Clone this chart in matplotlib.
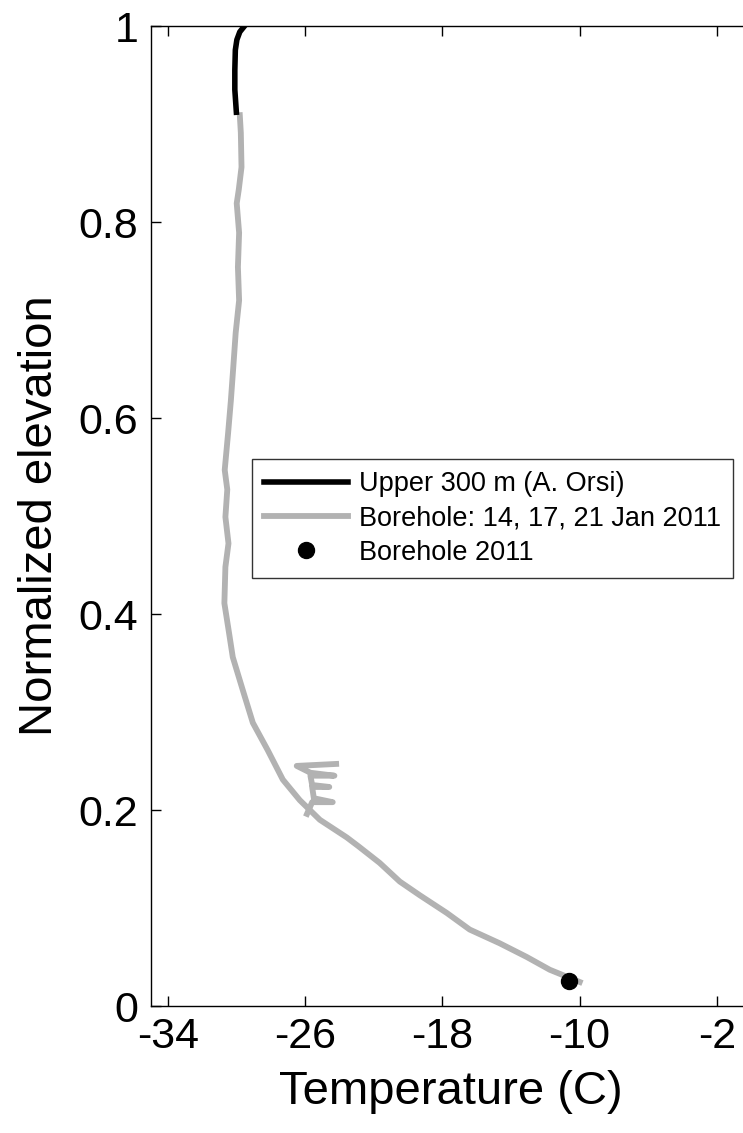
import matplotlib
matplotlib.use("Agg")
import matplotlib.pyplot as plt

plt.rcParams['font.family'] = ['Liberation Sans', 'DejaVu Sans']

# Upper 300 m profile (A. Orsi)
orsi_t = [-29.59, -29.82, -29.99, -30.08, -30.11, -30.11, -30.02]
orsi_z = [0.999, 0.994, 0.986, 0.9755, 0.955, 0.935, 0.912]

# Borehole profiles, Jan 2011
bh_t = [-29.82, -29.76, -29.72, -29.88, -30.00, -29.86, -29.93, -29.86, -30.06,
        -30.20, -30.34, -30.50, -30.70, -30.55, -30.66, -30.48, -30.66, -30.72,
        -30.45, -30.23, -29.64, -29.06, -28.19, -27.31, -26.32, -25.15, -23.58,
        -22.90, -21.66, -20.49, -19.32, -17.75, -16.41, -14.66, -13.08,
        -11.74, -9.99]
bh_z = [0.909, 0.891, 0.856, 0.833, 0.819, 0.789, 0.754, 0.720, 0.687,
        0.652, 0.618, 0.585, 0.547, 0.527, 0.499, 0.472, 0.448, 0.411,
        0.381, 0.356, 0.322, 0.289, 0.261, 0.231, 0.210, 0.190, 0.172,
        0.163, 0.146, 0.127, 0.113, 0.095, 0.078, 0.064, 0.050,
        0.037, 0.0245]

# noisy section of one borehole log
bh2_t = [-25.9, -25.6, -24.4, -25.5, -25.6, -24.6, -25.6, -25.7, -24.3, -25.7, -26.5, -24.2]
bh2_z = [0.196, 0.208, 0.208, 0.212, 0.2235, 0.2235, 0.2255, 0.235, 0.235, 0.238, 0.245, 0.247]

# single 2011 point
pt_t = [-10.64]
pt_z = [0.026]

xticks = [-34, -26, -18, -10, -2]
yticks = [0, 0.2, 0.4, 0.6, 0.8, 1]
ytick_labels = ['0', '0.2', '0.4', '0.6', '0.8', '1']

fig = plt.figure(figsize=(7.43, 11.33), dpi=100)
ax = fig.add_axes([151/743, 127/1133, 600/743, 980/1133])

ax.plot(orsi_t, orsi_z, color='black', linewidth=4, label='Upper 300 m (A. Orsi)', zorder=3)
ax.plot(bh_t, bh_z, color='#b2b2b2', linewidth=4.2, label='Borehole: 14, 17, 21 Jan 2011', zorder=2)
ax.plot(bh2_t, bh2_z, color='#b2b2b2', linewidth=4.2, zorder=2)
ax.plot(pt_t, pt_z, 'o', color='black', markersize=11.5, label='Borehole 2011', zorder=4)

ax.set_xlim(-35, 0)
ax.set_ylim(0, 1)
ax.set_xticks(xticks)
ax.set_xticklabels([str(t) for t in xticks])
ax.set_yticks(yticks)
ax.set_yticklabels(ytick_labels)
ax.tick_params(direction='in', length=7, width=1, top=True, right=False, labelsize=31)
ax.tick_params(axis='x', pad=8)
ax.tick_params(axis='y', pad=9)
for s in ax.spines.values():
    s.set_linewidth(1)

ax.set_xlabel('Temperature (C)', fontsize=34, labelpad=9)
ax.set_ylabel('Normalized elevation', fontsize=34, labelpad=12)

leg = ax.legend(loc='upper left', bbox_to_anchor=(0.168, 0.558), borderaxespad=0,
                fontsize=19.5, frameon=True, fancybox=False, edgecolor='black',
                handlelength=3.1, handletextpad=0.4, borderpad=0.45, labelspacing=0.3)
leg.get_frame().set_linewidth(1)

plt.savefig('out.png', dpi=100)
